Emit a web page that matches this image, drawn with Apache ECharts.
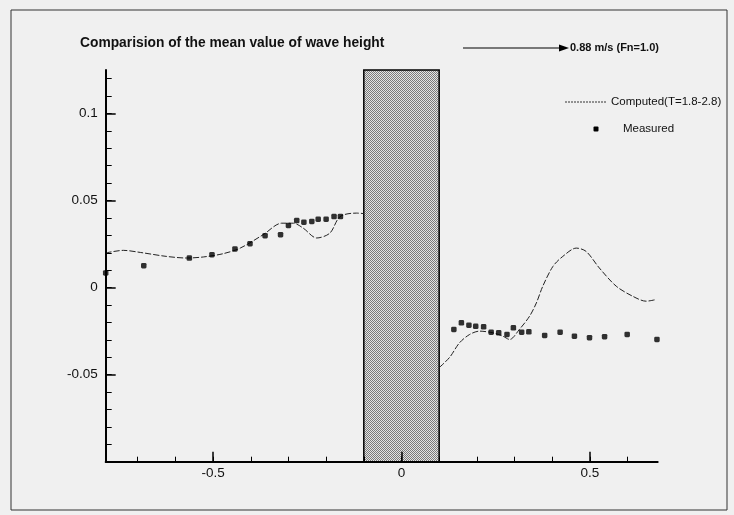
<!DOCTYPE html>
<html>
<head>
<meta charset="utf-8">
<script src="https://cdn.jsdelivr.net/npm/echarts@6/dist/echarts.min.js"></script>
<style>
html,body{margin:0;padding:0;background:#f0f0f0;}
#c{width:734px;height:515px;}
</style>
</head>
<body>
<div id="c"></div>
<script>
// ---- data ----
var computedLeftX = [-0.785,-0.738,-0.693,-0.623,-0.570,-0.526,-0.473,-0.428,-0.367,-0.318,-0.287,-0.261,-0.225,-0.190,-0.163,-0.119,-0.100];
var computedLeftY = [0.0199,0.0214,0.0202,0.0179,0.0170,0.0176,0.0195,0.0227,0.0304,0.0370,0.0370,0.0342,0.0285,0.0313,0.0408,0.0428,0.0425];
var computedRightX = [0.101,0.128,0.154,0.181,0.207,0.243,0.269,0.287,0.313,0.340,0.358,0.375,0.402,0.428,0.464,0.490,0.525,0.570,0.614,0.649,0.675];
var computedRightY = [-0.0458,-0.0400,-0.0317,-0.0269,-0.0250,-0.0260,-0.0279,-0.0298,-0.0240,-0.0164,-0.0088,0.0008,0.0122,0.0179,0.0227,0.0208,0.0113,0.0008,-0.0050,-0.0078,-0.0069];
var measuredX = [-0.785,-0.684,-0.563,-0.503,-0.442,-0.402,-0.362,-0.321,-0.300,-0.278,-0.259,-0.238,-0.221,-0.200,-0.179,-0.162,
                 0.139,0.159,0.179,0.197,0.218,0.238,0.258,0.280,0.297,0.319,0.338,0.380,0.421,0.459,0.499,0.539,0.599,0.678];
var measuredY = [0.0084,0.0126,0.0170,0.0189,0.0222,0.0252,0.0298,0.0304,0.0357,0.0385,0.0376,0.0380,0.0393,0.0393,0.0408,0.0408,
                 -0.0240,-0.0202,-0.0216,-0.0222,-0.0225,-0.0256,-0.0260,-0.0269,-0.0231,-0.0256,-0.0254,-0.0275,-0.0256,-0.0279,-0.0288,-0.0282,-0.0269,-0.0298];
var hullStart = -0.1, hullEnd = 0.1;
var xMin = -0.785, xMax = 0.68, yMin = -0.1, yMax = 0.125;
var xMajorTicks = [-0.5, 0, 0.5];
var xMinorTicks = [-0.7,-0.6,-0.5,-0.4,-0.3,-0.2,-0.1,0,0.1,0.2,0.3,0.4,0.5,0.6];
var yMajorTicks = [-0.05, 0, 0.05, 0.1];
var yMinorTicks = [-0.09,-0.08,-0.07,-0.06,-0.05,-0.04,-0.03,-0.02,-0.01,0,0.01,0.02,0.03,0.04,0.05,0.06,0.07,0.08,0.09,0.1,0.11,0.12];
var titleText = 'Comparision of the mean value of wave height';
var speedText = '0.88 m/s (Fn=1.0)';
var computedName = 'Computed(T=1.8-2.8)';
var measuredName = 'Measured';

// ---- build ----
function pairs(xs, ys){ var r=[]; for(var i=0;i<xs.length;i++) r.push([xs[i], ys[i]]); return r; }
var computedData = pairs(computedLeftX, computedLeftY).concat([[null,null]]).concat(pairs(computedRightX, computedRightY));
var measuredData = pairs(measuredX, measuredY);

// dithered fill for the hull block
var pc = document.createElement('canvas'); pc.width = 4; pc.height = 4;
var pctx = pc.getContext('2d');
pctx.fillStyle = '#e4e4e4'; pctx.fillRect(0,0,4,4);
pctx.fillStyle = '#7a7a7a';
pctx.fillRect(0,0,1,1); pctx.fillRect(2,0,1,1); pctx.fillRect(1,1,1,1); pctx.fillRect(3,1,1,1);
pctx.fillRect(0,2,1,1); pctx.fillRect(2,2,1,1); pctx.fillRect(1,3,1,1); pctx.fillRect(3,3,1,1);

var FONT = '"Liberation Sans", Arial, sans-serif';
var chart = echarts.init(document.getElementById('c'), null, {renderer:'canvas'});
var gridDef = {left:105.7, right:76.3, top:70, bottom:53.3, containLabel:false};
var option = {
  backgroundColor:'#f0f0f0',
  animation:false,
  grid: gridDef,
  title: {text:titleText, left:80, top:36, padding:0,
          textStyle:{fontFamily:FONT, fontSize:13.8, fontWeight:'bold', color:'#111'}},
  xAxis: [
    {type:'value', min:xMin, max:xMax, position:'bottom', z:10,
     axisLine:{show:true, onZero:false, lineStyle:{color:'#000', width:2}},
     axisTick:{show:true, inside:true, length:5, customValues:xMinorTicks, lineStyle:{color:'#000', width:1}},
     axisLabel:{show:false}, splitLine:{show:false}},
    {type:'value', min:xMin, max:xMax, position:'bottom', z:10,
     axisLine:{show:false, onZero:false},
     axisTick:{show:true, inside:true, length:10, customValues:xMajorTicks, lineStyle:{color:'#000', width:1.5}},
     axisLabel:{show:true, customValues:xMajorTicks, margin:5, color:'#111', fontFamily:FONT, fontSize:13.5,
                formatter:function(v){return String(v);}},
     splitLine:{show:false}}
  ],
  yAxis: [
    {type:'value', min:yMin, max:yMax, position:'left', z:10,
     axisLine:{show:true, onZero:false, lineStyle:{color:'#000', width:2}},
     axisTick:{show:true, inside:true, length:6, customValues:yMinorTicks, lineStyle:{color:'#000', width:1}},
     axisLabel:{show:false}, splitLine:{show:false}},
    {type:'value', min:yMin, max:yMax, position:'left', z:10,
     axisLine:{show:false, onZero:false},
     axisTick:{show:true, inside:true, length:10, customValues:yMajorTicks, lineStyle:{color:'#000', width:1.5}},
     axisLabel:{show:true, customValues:yMajorTicks, margin:8, color:'#111', fontFamily:FONT, fontSize:13.5,
                formatter:function(v){return String(v);}},
     splitLine:{show:false}}
  ],
  series: [
    {name:computedName, type:'line', xAxisIndex:0, yAxisIndex:0, data:computedData,
     showSymbol:false, smooth:0.3, connectNulls:false, z:3,
     lineStyle:{color:'#222', width:1, type:[6,2]},
     markArea:{silent:true, z:1,
       itemStyle:{color:{image:pc, repeat:'repeat'}, borderColor:'#000', borderWidth:1.5},
       data:[[{xAxis:hullStart, yAxis:yMin},{xAxis:hullEnd, yAxis:yMax}]]}},
    {name:measuredName, type:'scatter', xAxisIndex:0, yAxisIndex:0, data:measuredData, clip:false,
     symbol:'roundRect', symbolSize:5.5, z:12, itemStyle:{color:'#000'}}
  ],
  graphic: [
    {type:'rect', shape:{x:11, y:10, width:716, height:500}, style:{fill:'none', stroke:'#333', lineWidth:1}, silent:true},
    {type:'line', shape:{x1:463, y1:48, x2:562, y2:48}, style:{stroke:'#000', lineWidth:1.2}},
    {type:'polygon', shape:{points:[[569,48],[559,44.5],[559,51.5]]}, style:{fill:'#000'}},
    {type:'text', left:570, top:42, style:{text:speedText, font:'bold 11px ' + FONT, fill:'#111'}},
    {type:'line', shape:{x1:565, y1:102, x2:607, y2:102}, style:{stroke:'#333', lineWidth:1, lineDash:[2,1]}},
    {type:'text', left:611, top:96, style:{text:computedName, font:'11.5px ' + FONT, fill:'#111'}},
    {type:'rect', shape:{x:593.5, y:126.5, width:5, height:5, r:1}, style:{fill:'#000'}},
    {type:'text', left:623, top:123, style:{text:measuredName, font:'11.5px ' + FONT, fill:'#111'}}
  ]
};
chart.setOption(option);
</script>
</body>
</html>
